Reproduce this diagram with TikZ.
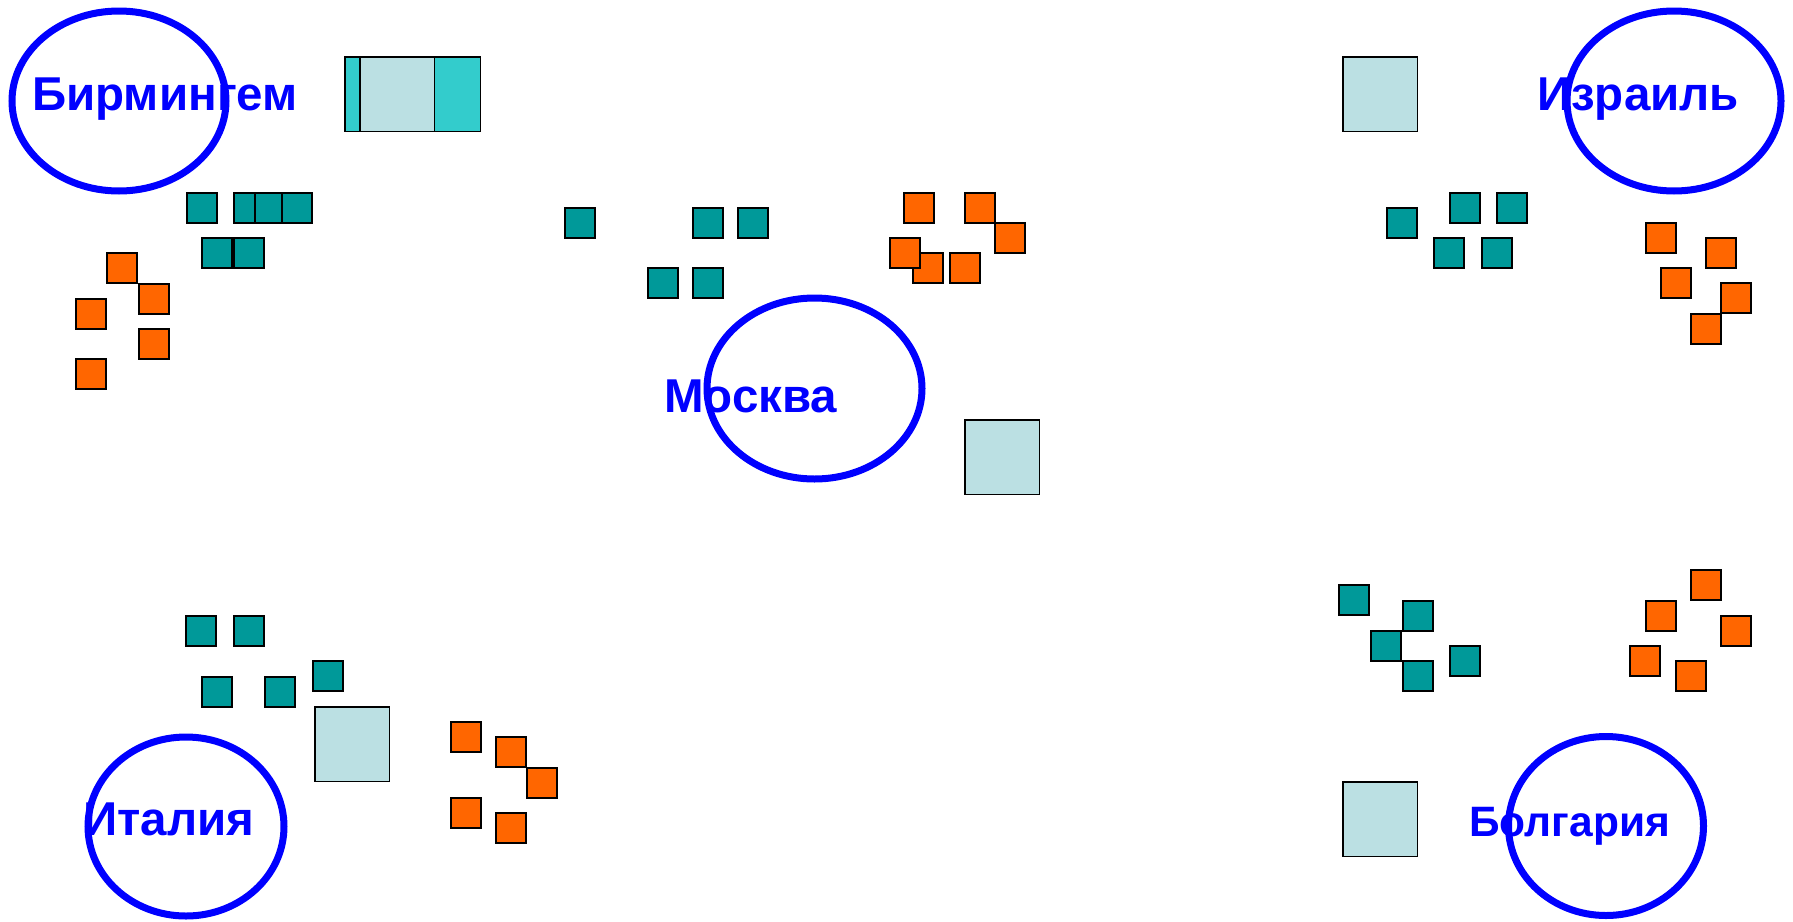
\documentclass[tikz,border=0pt]{standalone}
\usepackage{fontspec}
\setmainfont{Liberation Sans}
\usetikzlibrary{shapes.geometric}
\definecolor{tealsq}{HTML}{009999}
\definecolor{orangesq}{HTML}{FF6600}
\definecolor{lightsq}{HTML}{BBE0E3}
\definecolor{cyansq}{HTML}{33CCCC}
\definecolor{cityblue}{HTML}{0000FF}
\tikzset{
  sq/.style={draw=black, line width=1.5pt, minimum size=30pt, inner sep=0pt, outer sep=0pt, anchor=north west},
  tsq/.style={sq, fill=tealsq},
  osq/.style={sq, fill=orangesq},
  bsq/.style={draw=black, line width=1.5pt, minimum size=74.5pt, inner sep=0pt, outer sep=0pt, anchor=north west, fill=lightsq},
  csq/.style={bsq, fill=cyansq},
  city/.style={ellipse, draw=cityblue, line width=7pt, inner sep=0pt},
  lbl/.style={text=cityblue, inner sep=0pt, anchor=base west, font=\fontsize{47.5}{48}\selectfont\bfseries},
  lblsmall/.style={lbl, font=\fontsize{42.5}{43}\selectfont\bfseries}
}
\begin{document}
\begin{tikzpicture}[x=1pt,y=-1pt]
\useasboundingbox[fill=white] (0,0) rectangle (1793,921);
% Birmingham group
\node[csq] (bc1) at (344.75,56.75) {};
\node[csq] (bc2) at (405.75,56.75) {};
\node[bsq] (bl) at (359.75,56.75) {};
\node[tsq] (bt1) at (186.75,192.75) {};
\node[tsq] (bt2) at (233.75,192.75) {};
\node[tsq] (bt3) at (254.75,192.75) {};
\node[tsq] (bt4) at (281.75,192.75) {};
\node[tsq] (bt5) at (201.75,237.75) {};
\node[tsq] (bt6) at (233.75,237.75) {};
\node[osq] (bo1) at (106.75,252.75) {};
\node[osq] (bo2) at (138.75,283.75) {};
\node[osq] (bo3) at (75.75,298.75) {};
\node[osq] (bo4) at (138.75,328.75) {};
\node[osq] (bo5) at (75.75,358.75) {};
% Moscow group
\node[tsq] (mt1) at (564.75,207.75) {};
\node[tsq] (mt2) at (692.75,207.75) {};
\node[tsq] (mt3) at (737.75,207.75) {};
\node[tsq] (mt4) at (647.75,267.75) {};
\node[tsq] (mt5) at (692.75,267.75) {};
\node[osq] (mo1) at (903.75,192.75) {};
\node[osq] (mo2) at (964.75,192.75) {};
\node[osq] (mo3) at (994.75,222.75) {};
\node[osq] (mo4) at (912.75,252.75) {};
\node[osq] (mo5) at (949.75,252.75) {};
\node[osq] (mo6) at (889.75,237.75) {};
\node[bsq] (ml) at (964.75,419.75) {};
% Israel group
\node[bsq] (il) at (1342.75,56.75) {};
\node[tsq] (it1) at (1386.75,207.75) {};
\node[tsq] (it2) at (1449.75,192.75) {};
\node[tsq] (it3) at (1496.75,192.75) {};
\node[tsq] (it4) at (1433.75,237.75) {};
\node[tsq] (it5) at (1481.75,237.75) {};
\node[osq] (io1) at (1645.75,222.75) {};
\node[osq] (io2) at (1705.75,237.75) {};
\node[osq] (io3) at (1660.75,267.75) {};
\node[osq] (io4) at (1720.75,282.75) {};
\node[osq] (io5) at (1690.75,313.75) {};
% Italy group
\node[tsq] (yt1) at (185.75,615.75) {};
\node[tsq] (yt2) at (233.75,615.75) {};
\node[tsq] (yt3) at (201.75,676.75) {};
\node[tsq] (yt4) at (264.75,676.75) {};
\node[tsq] (yt5) at (312.75,660.75) {};
\node[bsq] (yl) at (314.75,706.75) {};
\node[osq] (yo1) at (450.75,721.75) {};
\node[osq] (yo2) at (495.75,736.75) {};
\node[osq] (yo3) at (526.75,767.75) {};
\node[osq] (yo4) at (450.75,797.75) {};
\node[osq] (yo5) at (495.75,812.75) {};
% Bulgaria group
\node[tsq] (gt1) at (1338.75,584.75) {};
\node[tsq] (gt2) at (1402.75,600.75) {};
\node[tsq] (gt3) at (1370.75,630.75) {};
\node[tsq] (gt4) at (1402.75,660.75) {};
\node[tsq] (gt5) at (1449.75,645.75) {};
\node[osq] (go1) at (1690.75,569.75) {};
\node[osq] (go2) at (1645.75,600.75) {};
\node[osq] (go3) at (1720.75,615.75) {};
\node[osq] (go4) at (1629.75,645.75) {};
\node[osq] (go5) at (1675.75,660.75) {};
\node[bsq] (gl) at (1342.75,781.75) {};
% city labels
\node[lbl] (tb) at (32,110) {Бирмингем};
\node[lbl] (tm) at (664,412) {Москва};
\node[lbl] (ti) at (1537,110) {Израиль};
\node[lbl] (ty) at (83,835) {Италия};
\node[lblsmall] (tg) at (1469,836) {Болгария};
% city ellipses
\node[city, minimum width=214pt, minimum height=180pt] (eb) at (119,101) {};
\node[city, minimum width=215pt, minimum height=181pt] (em) at (814.5,388.5) {};
\node[city, minimum width=214pt, minimum height=180pt] (ei) at (1674,101) {};
\node[city, minimum width=196pt, minimum height=179pt] (ey) at (186,826.5) {};
\node[city, minimum width=195pt, minimum height=179pt] (eg) at (1606,826) {};
\end{tikzpicture}
\end{document}
